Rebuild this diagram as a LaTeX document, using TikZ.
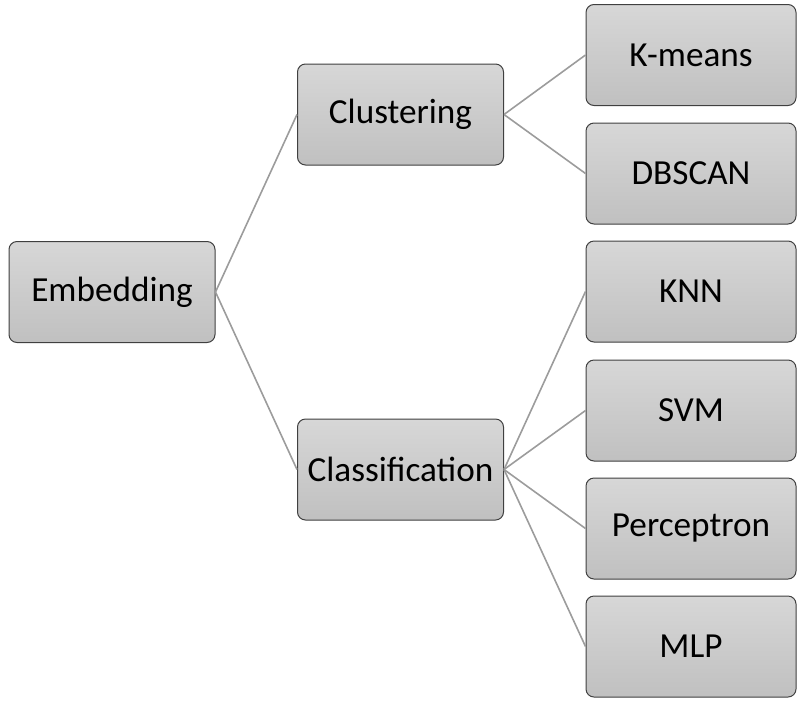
\documentclass[tikz,border=0pt]{standalone}
\usepackage{fontspec}
\setmainfont{Carlito}
\definecolor{boxtop}{HTML}{D7D7D7}
\definecolor{boxbot}{HTML}{C0C0C0}
\definecolor{boxline}{HTML}{404040}
\definecolor{linkcol}{HTML}{9C9C9C}
\begin{document}
\begin{tikzpicture}[x=1pt,y=-1pt,
  box/.style={draw=boxline, line width=1pt, rounded corners=8pt,
    top color=boxtop, bottom color=boxbot, minimum width=206pt, minimum height=101pt,
    inner sep=0pt, font=\fontsize{35.2}{40}\selectfont, text=black},
  cbox/.style={box, minimum width=210pt},
  link/.style={draw=linkcol, line width=1.6pt}]
\useasboundingbox (0,0) rectangle (802,702);
\node[box] (emb) at (112,292) {Embedding};
\node[box] (clu) at (400.5,114.5) {Clustering};
\node[box] (cla) at (400.5,469.5) {Classification};
\node[cbox] (km) at (691,55) {K-means};
\node[cbox] (db) at (691,173.5) {DBSCAN};
\node[cbox] (knn) at (691,291.5) {KNN};
\node[cbox] (svm) at (691,410.5) {SVM};
\node[cbox] (per) at (691,528.5) {Perceptron};
\node[cbox] (mlp) at (691,646.5) {MLP};
\draw[link] (emb.east) -- (clu.west);
\draw[link] (emb.east) -- (cla.west);
\draw[link] (clu.east) -- (km.west);
\draw[link] (clu.east) -- (db.west);
\draw[link] (cla.east) -- (knn.west);
\draw[link] (cla.east) -- (svm.west);
\draw[link] (cla.east) -- (per.west);
\draw[link] (cla.east) -- (mlp.west);
\end{tikzpicture}
\end{document}
